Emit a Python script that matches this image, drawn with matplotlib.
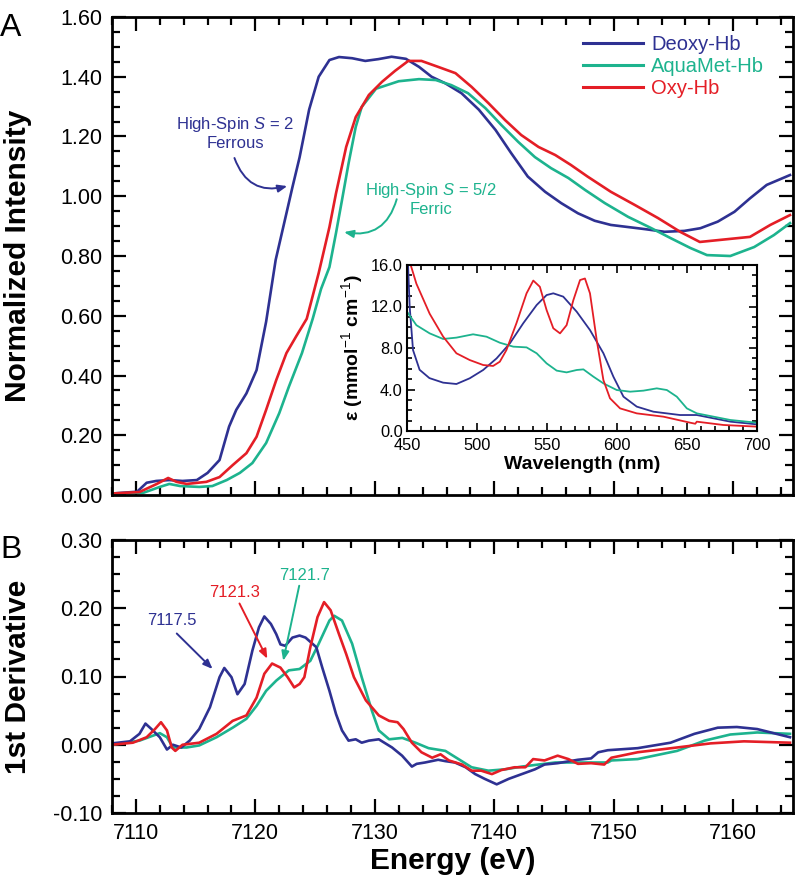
import matplotlib
matplotlib.use("Agg")
import matplotlib.pyplot as plt
from matplotlib.ticker import MultipleLocator, FormatStrFormatter

plt.rcParams['font.family'] = ['Liberation Sans', 'DejaVu Sans']
plt.rcParams['mathtext.fontset'] = 'custom'
plt.rcParams['mathtext.rm'] = 'Liberation Sans'
plt.rcParams['mathtext.it'] = 'Liberation Sans:italic'
plt.rcParams['mathtext.bf'] = 'Liberation Sans:bold'

NAVY = '#2E3192'
TEAL = '#1DB38E'
RED = '#E41E26'

# ---------------- Panel A: normalized XAS ----------------
deoxy_a_x = [7108, 7110.1, 7110.9, 7111.7, 7112.8, 7113.9, 7115.1, 7116, 7117, 7117.8, 7118.4,
             7119.25, 7120.1, 7120.9, 7121.7, 7122.6, 7123.1, 7123.7, 7124.5, 7125.3, 7126.2,
             7127, 7128.1, 7129.2, 7130.3, 7131.4, 7132.6, 7133.7, 7134.75, 7135.9, 7137.25,
             7138.7, 7140.1, 7141.4, 7142.8, 7144.25, 7145.6, 7147, 7148.4, 7149.75, 7152.6,
             7154.25, 7155.9, 7157.25, 7158.7, 7160.1, 7161.4, 7162.8, 7164.75]
deoxy_a_y = [0.005, 0.011, 0.041, 0.047, 0.050, 0.047, 0.050, 0.074, 0.117, 0.229, 0.285,
             0.340, 0.418, 0.580, 0.787, 0.943, 1.030, 1.130, 1.290, 1.400, 1.456,
             1.466, 1.462, 1.453, 1.459, 1.467, 1.460, 1.433, 1.400, 1.378, 1.345,
             1.290, 1.222, 1.145, 1.066, 1.015, 0.977, 0.943, 0.918, 0.904, 0.890,
             0.881, 0.884, 0.893, 0.915, 0.948, 0.993, 1.038, 1.071]

aqua_a_x = [7108, 7110.6, 7112, 7112.8, 7113.7, 7115.3, 7116.4, 7117.6, 7118.7, 7119.75, 7120.9,
            7122, 7122.8, 7123.9, 7124.8, 7125.5, 7126.2, 7126.75, 7127.25, 7127.8, 7128.4,
            7128.9, 7130.1, 7132, 7133.7, 7135.1, 7136.4, 7137.8, 7139.25, 7140.6, 7142,
            7143.4, 7144.75, 7146.2, 7147.6, 7149.25, 7151.2, 7153.1, 7154.75, 7156.4, 7157.8,
            7159.75, 7161.75, 7163.4, 7164.75]
aqua_a_y = [0.005, 0.007, 0.027, 0.037, 0.030, 0.027, 0.030, 0.050, 0.074, 0.107, 0.174,
            0.274, 0.362, 0.475, 0.590, 0.690, 0.763, 0.877, 0.987, 1.110, 1.232,
            1.299, 1.360, 1.385, 1.392, 1.389, 1.372, 1.345, 1.295, 1.238, 1.182,
            1.131, 1.094, 1.061, 1.021, 0.977, 0.931, 0.894, 0.860, 0.827, 0.803,
            0.800, 0.830, 0.870, 0.910]

oxy_a_x = [7108, 7110.3, 7111.75, 7112.7, 7113.4, 7114.25, 7115.9, 7117, 7118.1, 7119.25, 7120.1,
           7120.9, 7121.75, 7122.6, 7123.4, 7124.3, 7125.3, 7126.2, 7126.75, 7127.6, 7128.4,
           7129.5, 7130.6, 7131.7, 7132.8, 7133.9, 7135.3, 7136.75, 7138.1, 7139.5, 7140.9,
           7142.25, 7143.7, 7145.1, 7146.4, 7147.8, 7149.75, 7151.75, 7153.7, 7155.6, 7157.2,
           7161.4, 7163.1, 7164.75]
oxy_a_y = [0.005, 0.010, 0.037, 0.057, 0.044, 0.037, 0.044, 0.060, 0.100, 0.140, 0.195,
           0.285, 0.385, 0.475, 0.530, 0.590, 0.743, 0.897, 1.010, 1.165, 1.265,
           1.339, 1.383, 1.420, 1.453, 1.453, 1.433, 1.412, 1.366, 1.312, 1.255,
           1.205, 1.165, 1.138, 1.105, 1.066, 1.015, 0.971, 0.927, 0.880, 0.847,
           0.864, 0.904, 0.937]

# ---------------- Panel B: first derivative ----------------
deoxy_b_x = [7108, 7109.5, 7110.3, 7110.8, 7111.3, 7112, 7112.6, 7113.1, 7113.8, 7114.5, 7115.3,
             7116.2, 7117, 7117.4, 7118, 7118.5, 7119.1, 7119.75, 7120.3, 7120.75, 7121.3,
             7121.75, 7122.1, 7122.5, 7123.1, 7123.7, 7124.2, 7125.1, 7125.6, 7126.2, 7126.75,
             7127.25, 7127.8, 7128.4, 7128.9, 7129.5, 7130.33, 7131.44, 7132.28, 7133.1, 7133.5,
             7134.2, 7135.3, 7135.9, 7136.7, 7137.6, 7138.4, 7139.2, 7140.2, 7141.2, 7142.3,
             7143.4, 7144.2, 7145.3, 7147, 7148.1, 7148.7, 7149.5, 7152, 7154.75, 7156.75,
             7158.7, 7160.3, 7162, 7164.75]
deoxy_b_y = [0.002, 0.005, 0.016, 0.031, 0.023, 0.011, -0.007, 0.000, -0.004, 0.006, 0.023,
             0.055, 0.099, 0.1125, 0.099, 0.074, 0.089, 0.138, 0.172, 0.188, 0.177,
             0.162, 0.147, 0.145, 0.157, 0.160, 0.157, 0.143, 0.113, 0.079, 0.045,
             0.021, 0.006, 0.008, 0.003, 0.006, 0.008, -0.004, -0.016, -0.032, -0.028,
             -0.026, -0.022, -0.024, -0.026, -0.033, -0.043, -0.050, -0.058, -0.050, -0.043,
             -0.036, -0.029, -0.027, -0.022, -0.020, -0.011, -0.008, -0.005, 0.003, 0.016,
             0.025, 0.026, 0.023, 0.011]

aqua_b_x = [7108, 7110.3, 7112, 7112.6, 7113.1, 7114.25, 7115.3, 7116.75, 7118.1, 7119.25, 7120.1,
            7120.9, 7121.75, 7122.8, 7123.7, 7124.6, 7125.3, 7126.2, 7126.6, 7127.25, 7128.1,
            7128.9, 7129.75, 7130.33, 7131.2, 7132.3, 7133.4, 7134.5, 7135.9, 7137, 7138.1,
            7139.5, 7140.9, 7142.3, 7143.7, 7145.1, 7146.7, 7148.1, 7149.5, 7149.8, 7152,
            7155.3, 7157.6, 7159.75, 7162, 7164.75]
aqua_b_y = [0.000, 0.006, 0.017, 0.011, -0.004, -0.004, -0.001, 0.011, 0.025, 0.038, 0.057,
            0.079, 0.094, 0.109, 0.111, 0.123, 0.148, 0.182, 0.189, 0.182, 0.148,
            0.099, 0.050, 0.021, 0.008, 0.010, 0.003, -0.005, -0.009, -0.021, -0.033,
            -0.038, -0.036, -0.032, -0.029, -0.026, -0.026, -0.026, -0.026, -0.023, -0.021,
            -0.009, 0.006, 0.015, 0.018, 0.016]

oxy_b_x = [7108, 7109.75, 7110.9, 7111.6, 7112.1, 7112.6, 7113, 7113.3, 7113.9, 7115.3, 7116.75,
           7118.1, 7119.25, 7120.1, 7120.75, 7121.4, 7122.1, 7122.7, 7123.25, 7123.7, 7124.1,
           7124.6, 7125.2, 7125.75, 7126.3, 7127, 7127.6, 7128.25, 7129.25, 7130.33, 7131.2,
           7131.9, 7132.4, 7133.1, 7133.9, 7134.8, 7135.5, 7136.2, 7137.3, 7138.1, 7138.9,
           7139.8, 7140.6, 7141.7, 7142.6, 7143.25, 7144.2, 7145.3, 7146.2, 7147, 7148.1,
           7149.2, 7149.8, 7152, 7155.3, 7158.1, 7160.9, 7164.75]
oxy_b_y = [0.000, 0.003, 0.011, 0.023, 0.033, 0.021, -0.004, -0.009, 0.000, 0.003, 0.016,
           0.035, 0.043, 0.069, 0.104, 0.119, 0.113, 0.099, 0.084, 0.089, 0.099,
           0.143, 0.187, 0.209, 0.197, 0.162, 0.133, 0.099, 0.065, 0.043, 0.035,
           0.033, 0.023, 0.003, -0.011, -0.019, -0.014, -0.023, -0.029, -0.038, -0.038,
           -0.043, -0.037, -0.033, -0.033, -0.021, -0.023, -0.016, -0.021, -0.028, -0.027,
           -0.029, -0.019, -0.011, -0.004, 0.002, 0.005, 0.003]

# ---------------- Inset: optical absorption ----------------
deoxy_uv_x = [450.7, 451.9, 454.3, 459, 466, 475.8, 485.3, 494.8, 504.4, 514, 523.5, 533, 542.6,
              549.7, 554.5, 561.6, 571.2, 580.7, 590.3, 597.4, 604.6, 614.1, 626, 645, 657,
              669, 681, 700]
deoxy_uv_y = [16.2, 12.0, 7.8, 5.9, 5.1, 4.66, 4.53, 5.08, 5.88, 7.0, 8.45, 10.38, 12.14,
              13.1, 13.27, 12.95, 11.5, 9.73, 7.49, 5.24, 3.31, 2.35, 1.86, 1.54, 1.54,
              1.22, 0.9, 0.64]

oxy_uv_x = [453, 456.7, 466.2, 475.8, 485.3, 494.8, 504.4, 511.5, 516.3, 521, 528.2, 535.4, 540.2,
            544.9, 549.7, 554.5, 559.3, 564, 568.8, 573.6, 577.1, 580.7, 585.5, 590.3, 595,
            602.2, 614.1, 633.2, 652.3, 655.9, 657, 676, 700]
oxy_uv_y = [15.84, 14.2, 11.3, 9.1, 7.49, 6.84, 6.36, 6.27, 6.68, 7.8, 10.4, 13.27, 14.5,
            13.9, 11.66, 9.9, 9.41, 10.2, 12.6, 14.55, 14.7, 13.27, 8.77, 4.9, 3.15,
            2.18, 1.7, 1.38, 0.8, 0.7, 0.9, 0.58, 0.42]

aqua_uv_x = [450, 456.7, 466.2, 475.8, 485.3, 497.2, 506.8, 516.3, 525.9, 535.4, 542.6, 549.7,
             556.9, 564, 571.2, 576, 583.1, 590.3, 599.8, 609.4, 618.9, 628.4, 635.6, 642.7,
             649.9, 657, 669, 681, 700]
aqua_uv_y = [11.5, 10.2, 9.41, 8.87, 9.0, 9.32, 9.09, 8.51, 8.13, 8.06, 7.49, 6.52,
             5.82, 5.65, 5.88, 5.94, 5.24, 4.59, 3.95, 3.79, 3.89, 4.11, 3.95, 3.31,
             2.18, 1.7, 1.38, 1.06, 0.8]

labels = ['Deoxy-Hb', 'AquaMet-Hb', 'Oxy-Hb']
colors = [NAVY, TEAL, RED]

W, H = 796, 884
fig = plt.figure(figsize=(W / 100, H / 100), dpi=100)

def frac(l, t, r, b):
    return [l / W, 1 - b / H, (r - l) / W, (b - t) / H]

axA = fig.add_axes(frac(112, 17, 793, 495))
axB = fig.add_axes(frac(112, 540, 793, 813))
axI = fig.add_axes(frac(407, 265, 757, 431))

LW = 1.9
axA.plot(deoxy_a_x, deoxy_a_y, color=NAVY, lw=LW, label=labels[0])
axA.plot(aqua_a_x, aqua_a_y, color=TEAL, lw=LW, label=labels[1])
axA.plot(oxy_a_x, oxy_a_y, color=RED, lw=LW, label=labels[2])

axB.plot(aqua_b_x, aqua_b_y, color=TEAL, lw=LW)
axB.plot(deoxy_b_x, deoxy_b_y, color=NAVY, lw=LW)
axB.plot(oxy_b_x, oxy_b_y, color=RED, lw=LW)

axI.plot(deoxy_uv_x, deoxy_uv_y, color=NAVY, lw=1.3)
axI.plot(aqua_uv_x, aqua_uv_y, color=TEAL, lw=1.3)
axI.plot(oxy_uv_x, oxy_uv_y, color=RED, lw=1.3)

TICKFS = 15.5
for ax in (axA, axB):
    ax.set_xlim(7108, 7165)
    ax.xaxis.set_major_locator(MultipleLocator(10))
    ax.xaxis.set_minor_locator(MultipleLocator(2))
    ax.tick_params(which='both', direction='in', top=True, right=True, width=1.6,
                   labelsize=TICKFS, pad=7)
    ax.tick_params(which='major', length=10)
    ax.tick_params(which='minor', length=5.5)
    for s in ax.spines.values():
        s.set_linewidth(2.0)
    ax.yaxis.set_major_formatter(FormatStrFormatter('%.2f'))

axA.set_ylim(0, 1.6)
axA.yaxis.set_major_locator(MultipleLocator(0.2))
axA.yaxis.set_minor_locator(MultipleLocator(0.05))
axA.tick_params(axis='x', labelbottom=False)
axA.set_ylabel('Normalized Intensity', fontsize=21.5, fontweight='bold')
axA.yaxis.set_label_coords(-0.117, 0.5)

axB.set_ylim(-0.1, 0.3)
axB.yaxis.set_major_locator(MultipleLocator(0.1))
axB.yaxis.set_minor_locator(MultipleLocator(0.025))
axB.set_ylabel('1st Derivative', fontsize=21.5, fontweight='bold')
axB.yaxis.set_label_coords(-0.117, 0.5)
axB.set_xlabel('Energy (eV)', fontsize=21.5, fontweight='bold')
axB.xaxis.set_label_coords(0.5, -0.124)

# inset
axI.set_xlim(450, 700)
axI.set_ylim(0, 16)
axI.xaxis.set_major_locator(MultipleLocator(50))
axI.xaxis.set_minor_locator(MultipleLocator(10))
axI.yaxis.set_major_locator(MultipleLocator(4))
axI.yaxis.set_minor_locator(MultipleLocator(1))
axI.yaxis.set_major_formatter(FormatStrFormatter('%.1f'))
axI.tick_params(which='both', direction='in', top=True, right=True, width=1.2,
                labelsize=11.8)
axI.tick_params(axis='x', pad=5)
axI.tick_params(axis='y', pad=3)
axI.tick_params(which='major', length=6)
axI.tick_params(which='minor', length=3.5)
for s in axI.spines.values():
    s.set_linewidth(1.5)
axI.set_xlabel('Wavelength (nm)', fontsize=14, fontweight='bold', labelpad=2)
axI.set_ylabel('ε (mmol$^{-1}$ cm$^{-1}$)', fontsize=14, fontweight='bold')
axI.yaxis.set_label_coords(-0.12, 0.5)

# legend
leg = axA.legend(loc='upper left', bbox_to_anchor=(0.6916, 0.962), frameon=False,
                 fontsize=14.5, handlelength=3.0, handletextpad=0.4, labelspacing=0.15,
                 borderaxespad=0, borderpad=0)
for txt, c in zip(leg.get_texts(), colors):
    txt.set_color(c)
for ln in leg.get_lines():
    ln.set_linewidth(2.2)

# panel letters
fig.text(0 / W, 1 - 36 / H, 'A', fontsize=23, ha='left', va='baseline')
fig.text(0 / W, 1 - 558 / H, 'B', fontsize=23, ha='left', va='baseline')

# annotations panel A
axA.text(7118.33, 1.212, 'High-Spin $\\mathit{S}$ = 2\nFerrous', color=NAVY, fontsize=12,
         ha='center', va='center', linespacing=1.15)
axA.annotate('', xy=(7122.67, 1.034), xytext=(7118.25, 1.128),
             arrowprops=dict(arrowstyle='-|>,head_length=0.55,head_width=0.22', color=NAVY,
                             lw=1.4, connectionstyle='arc3,rad=0.45', shrinkA=0, shrinkB=0))
axA.text(7134.67, 0.992, 'High-Spin $\\mathit{S}$ = 5/2\nFerric', color=TEAL, fontsize=12,
         ha='center', va='center', linespacing=1.15)
axA.annotate('', xy=(7127.42, 0.880), xytext=(7131.83, 0.990),
             arrowprops=dict(arrowstyle='-|>,head_length=0.55,head_width=0.22', color=TEAL,
                             lw=1.4, connectionstyle='arc3,rad=-0.45', shrinkA=0, shrinkB=0))

# annotations panel B
ann = [('7117.5', NAVY, (7113.0, 0.182), (7113.42, 0.163), (7116.42, 0.111)),
       ('7121.3', RED, (7118.25, 0.223), (7118.67, 0.207), (7121.0, 0.126)),
       ('7121.7', TEAL, (7124.08, 0.248), (7123.67, 0.233), (7122.33, 0.123))]
for t, c, tp, tail, head in ann:
    axB.text(tp[0], tp[1], t, color=c, fontsize=12, ha='center', va='center')
    axB.annotate('', xy=head, xytext=tail,
                 arrowprops=dict(arrowstyle='-|>,head_length=0.55,head_width=0.22', color=c,
                                 lw=1.4, shrinkA=0, shrinkB=0))

fig.savefig('out.png', dpi=100)
